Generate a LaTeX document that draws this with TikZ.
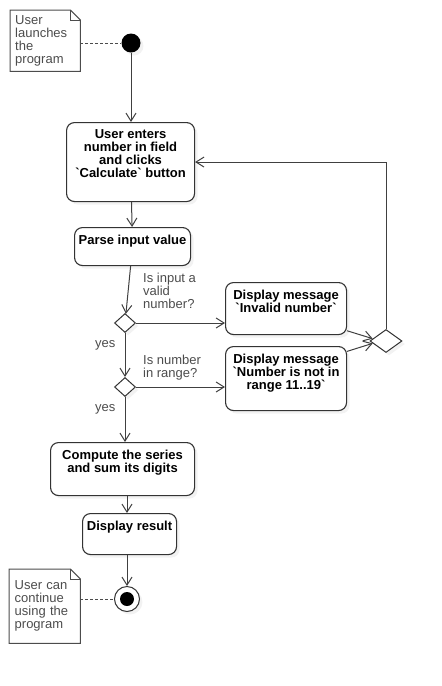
\documentclass[tikz,border=0pt]{standalone}
\usepackage{fontspec}
\setmainfont{Liberation Sans}[Ligatures=TeXOff]
\usetikzlibrary{arrows.meta,shapes.geometric,shadows,calc}
\newcommand{\acttext}[3]{\parbox[t][#2][t]{#1}{\centering #3}}
\tikzset{
ombre/.style={drop shadow={opacity=0.1,shadow xshift=3pt,shadow yshift=-3pt}},
activite/.style={draw=black!80,line width=1.1pt,rounded corners=8pt,fill=white,ombre,
  inner xsep=0pt,inner ysep=7.5pt,anchor=north west,font=\bfseries\fontsize{13}{13}\selectfont},
choix/.style={diamond,draw=black!80,line width=1pt,fill=white,ombre,inner sep=0pt,
  minimum width=21pt,minimum height=19pt},
debut/.style={circle,fill=black,inner sep=0pt,minimum size=19pt,ombre},
fin/.style={circle,draw=black!80,line width=1pt,fill=white,inner sep=0pt,minimum size=25pt,ombre,
  path picture={\fill[black] (path picture bounding box.center) circle (7pt);}},
memo/.style={anchor=north west,align=left,text width=60pt,inner xsep=5pt,
  minimum width=70pt,minimum height=61pt,text=black!70,font=\fontsize{13}{13}\selectfont},
garde/.style={text=black!70,align=left,inner sep=0pt,font=\fontsize{13}{13}\selectfont},
pli/.style={draw=black!70,line width=1pt},
flux/.style={-{Straight Barb[length=8pt,width=10pt]},draw=black!75,line width=1pt},
lien/.style={draw=black!70,line width=1pt,dash pattern=on 3pt off 2pt}
}
\begin{document}
\begin{tikzpicture}[x=1pt,y=-1pt]
\useasboundingbox (0,0) rectangle (442,686);
%%% debut & notes
\node[debut] (debut) at (131,43) {};
\node[memo] (memoA) at (10,10) {User\\launches\\the\\program};
\node[fin] (fin) at (127,599) {};
\node[memo,minimum width=71pt,minimum height=74pt] (memoB) at (9,569) {User can\\continue\\using the\\program};
\foreach \m in {memoA,memoB}
{
 \draw[pli] (\m.south west) -- (\m.north west) -- ($(\m.north east)+(-10pt,0pt)$)
   -- ($(\m.north east)+(0pt,-10pt)$) -- (\m.south east) -- cycle;
 \draw[pli] ($(\m.north east)+(-10pt,0pt)$) |- ($(\m.north east)+(0pt,-10pt)$);
}
\draw[lien] (memoA.east |- debut) -- (debut);
\draw[lien] (memoB.east |- fin) -- (fin);
%%% activites
\node[activite] (saisie) at (66,122) {\acttext{128pt}{64pt}{User enters\\number in field\\and clicks\\`Calculate` button}};
\node[activite] (analyse) at (74,227) {\acttext{116pt}{23pt}{Parse input value}};
\node[activite] (invalide) at (225,282) {\acttext{121pt}{37pt}{Display message\\`Invalid number`}};
\node[activite] (horsplage) at (225,346) {\acttext{121pt}{49pt}{Display message\\`Number is not in\\range 11..19`}};
\node[activite] (calcul) at (50,442) {\acttext{144pt}{38pt}{Compute the series\\and sum its digits}};
\node[activite] (resultat) at (82,513) {\acttext{94pt}{26pt}{Display result}};
%%% decisions
\node[choix] (valide) at (125,323) {};
\node[choix] (plage) at (125,387) {};
\node[choix,minimum width=32pt,minimum height=23pt] (fusion) at (386,341) {};
\node[garde,anchor=north west] (qvalide) at (143,273) {Is input a\\valid\\number?};
\node[garde,anchor=north west] (qplage) at (143,355) {Is number\\in range?};
\node[garde,anchor=base west] (oui1) at (95,347) {yes};
\node[garde,anchor=base west] (oui2) at (95,411) {yes};
%%% flux
\draw[flux] (debut) -- (debut |- saisie.north);
\draw[flux] (saisie) -- (analyse);
\draw[flux] (analyse) -- (valide);
\draw[flux] (valide) -- (valide -| invalide.west);
\draw[flux] (valide) -- (plage);
\draw[flux] (plage) -- (plage -| horsplage.west);
\draw[flux] (plage) -- (plage |- calcul.north);
\draw[flux] (fin |- calcul.south) -- (fin |- resultat.north);
\draw[flux] (fin |- resultat.south) -- (fin);
\draw[flux] (invalide.-20) -- (fusion.170);
\draw[flux] (horsplage.24) -- (fusion.190);
\draw[flux] (fusion.north) |- (saisie.east);
\end{tikzpicture}
\end{document}
